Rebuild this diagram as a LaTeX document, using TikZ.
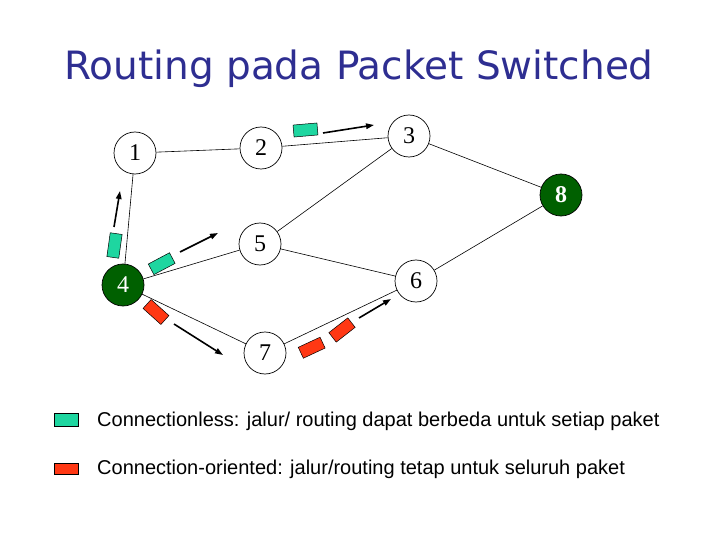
\documentclass[tikz,border=0pt]{standalone}
\usepackage{fontspec}
\setmainfont{Liberation Serif}
\newfontfamily\titlefont{DejaVu Sans}
\newfontfamily\legfont{Liberation Sans}
\usetikzlibrary{arrows.meta}
\definecolor{titleblue}{RGB}{46,46,145}
\definecolor{teal}{RGB}{30,214,160}
\definecolor{pktred}{RGB}{255,56,20}
\definecolor{dgreen}{RGB}{0,96,0}
\tikzset{
  rnode/.style={circle,draw=black,line width=0.7pt,minimum size=42pt,inner sep=0pt,
    font=\fontsize{24}{24}\selectfont},
  gnode/.style={rnode,fill=dgreen,text=white},
  edge/.style={line width=0.6pt},
  pkt/.style={draw=black,line width=0.5pt,minimum width=24pt,minimum height=12pt,inner sep=0pt},
  tpkt/.style={pkt,fill=teal},
  rpkt/.style={pkt,fill=pktred},
  mv/.style={line width=1.6pt,-{Triangle[length=8pt,width=5.5pt]}},
  legtext/.style={anchor=base west,inner sep=0pt,font=\legfont\fontsize{20}{20}\selectfont},
}
\begin{document}
\begin{tikzpicture}[x=1pt,y=-1pt]
\useasboundingbox (0,0) rectangle (720,540);
\node[anchor=base,text=titleblue,font=\titlefont\fontsize{39}{39}\selectfont] (title) at (359,80) {Routing pada Packet Switched};

\node[rnode] (n1) at (135,153) {1};
\node[rnode] (n2) at (261,148) {2};
\node[rnode] (n3) at (409,136) {3};
\node[gnode,font=\fontsize{24}{24}\selectfont\bfseries] (n8) at (561,195) {8};
\node[rnode] (n5) at (260,244) {5};
\node[rnode] (n6) at (416,281) {6};
\node[gnode] (n4) at (123,285) {4};
\node[rnode] (n7) at (265,353) {7};

\draw[edge] (n1) -- (n2);
\draw[edge] (n2) -- (n3);
\draw[edge] (n1) -- (n4);
\draw[edge] (n3) -- (n5);
\draw[edge] (n3) -- (n8);
\draw[edge] (n4) -- (n5);
\draw[edge] (n5) -- (n6);
\draw[edge] (n4) -- (n7);
\draw[edge] (n7) -- (n6);
\draw[edge] (n6) -- (n8);

% packets and movements
\node[tpkt,rotate=5] (p1) at (305.5,130) {};
\coordinate (a1s) at (323,133); \coordinate (a1e) at (374,125);
\draw[mv] (a1s) -- (a1e);

\node[tpkt,rotate=82] (p2) at (114.5,245.5) {};
\coordinate (a2s) at (114,227); \coordinate (a2e) at (120,191);
\draw[mv] (a2s) -- (a2e);

\node[tpkt,rotate=28] (p3) at (161.7,263.7) {};
\coordinate (a3s) at (180,252); \coordinate (a3e) at (218,233);
\draw[mv] (a3s) -- (a3e);

\node[rpkt,rotate=-42] (p4) at (156,312) {};
\coordinate (a4s) at (174,324); \coordinate (a4e) at (223,355);
\draw[mv] (a4s) -- (a4e);

\node[rpkt,rotate=25] (p5) at (311.7,347.7) {};
\node[rpkt,rotate=38] (p6) at (342,330) {};
\coordinate (a5s) at (359,318); \coordinate (a5e) at (391,299);
\draw[mv] (a5s) -- (a5e);

% legend
\node[pkt,fill=teal,minimum width=24pt,minimum height=13pt] (l1) at (66,419.5) {};
\node[pkt,fill=pktred,minimum width=24pt,minimum height=11pt] (l2) at (66,468.5) {};
\node[legtext] (t1) at (97,426) {Connectionless: jalur/ routing dapat berbeda untuk setiap paket};
\node[legtext] (t2) at (97,474) {Connection-oriented: jalur/routing tetap untuk seluruh paket};
\end{tikzpicture}
\end{document}
